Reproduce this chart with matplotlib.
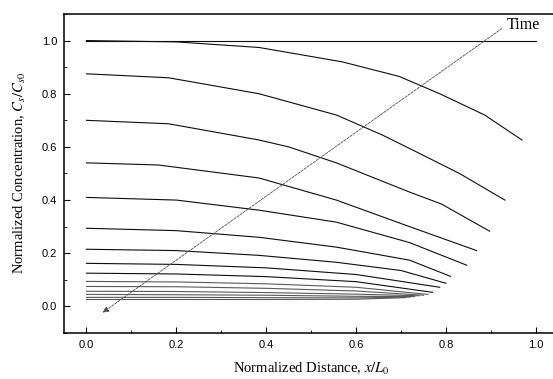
import matplotlib
matplotlib.use("Agg")
import matplotlib.pyplot as plt
from matplotlib.ticker import MultipleLocator

plt.rcParams['mathtext.fontset'] = 'stix'

#--Concentration profiles, one per time step (x/L0, Cs/Cs0)--#
x_t0 = [0.0, 1.0]
c_t0 = [1.0, 1.0]
x_t1 = [0.0, 0.2, 0.384, 0.569, 0.696, 0.786, 0.886, 0.969]
c_t1 = [1.0, 0.995, 0.974, 0.92, 0.865, 0.80, 0.72, 0.626]
x_t2 = [0.0, 0.183, 0.384, 0.556, 0.658, 0.725, 0.83, 0.931]
c_t2 = [0.875, 0.86, 0.80, 0.72, 0.645, 0.589, 0.50, 0.40]
x_t3 = [0.0, 0.183, 0.384, 0.45, 0.556, 0.719, 0.79, 0.897]
c_t3 = [0.70, 0.687, 0.626, 0.60, 0.54, 0.43, 0.385, 0.283]
x_t4 = [0.0, 0.16, 0.384, 0.556, 0.719, 0.868]
c_t4 = [0.54, 0.532, 0.483, 0.40, 0.30, 0.21]
x_t5 = [0.0, 0.2, 0.384, 0.556, 0.719, 0.846]
c_t5 = [0.41, 0.40, 0.362, 0.317, 0.24, 0.155]
x_t6 = [0.0, 0.2, 0.384, 0.556, 0.719, 0.81]
c_t6 = [0.294, 0.285, 0.26, 0.223, 0.174, 0.113]
x_t7 = [0.0, 0.2, 0.384, 0.556, 0.70, 0.80]
c_t7 = [0.215, 0.21, 0.192, 0.166, 0.135, 0.087]
x_t8 = [0.0, 0.2, 0.4, 0.6, 0.786]
c_t8 = [0.162, 0.158, 0.145, 0.12, 0.072]
x_t9 = [0.0, 0.2, 0.4, 0.6, 0.77]
c_t9 = [0.125, 0.122, 0.112, 0.093, 0.053]
x_t10 = [0.0, 0.2, 0.4, 0.6, 0.76]
c_t10 = [0.094, 0.092, 0.085, 0.072, 0.045]
x_t11 = [0.0, 0.2, 0.4, 0.6, 0.75]
c_t11 = [0.075, 0.074, 0.068, 0.058, 0.042]
x_t12 = [0.0, 0.2, 0.4, 0.6, 0.74]
c_t12 = [0.057, 0.056, 0.052, 0.046, 0.040]
x_t13 = [0.0, 0.2, 0.4, 0.6, 0.73]
c_t13 = [0.045, 0.044, 0.042, 0.038, 0.037]
x_t14 = [0.0, 0.2, 0.4, 0.6, 0.72]
c_t14 = [0.034, 0.034, 0.033, 0.032, 0.035]
x_t15 = [0.0, 0.2, 0.4, 0.6, 0.71]
c_t15 = [0.026, 0.026, 0.026, 0.027, 0.033]

profiles = [(x_t0, c_t0), (x_t1, c_t1), (x_t2, c_t2), (x_t3, c_t3),
            (x_t4, c_t4), (x_t5, c_t5), (x_t6, c_t6), (x_t7, c_t7),
            (x_t8, c_t8), (x_t9, c_t9), (x_t10, c_t10), (x_t11, c_t11),
            (x_t12, c_t12), (x_t13, c_t13), (x_t14, c_t14), (x_t15, c_t15)]

# time arrow: tail near the label, head at lower left
arrow_tail = (0.924, 1.045)
arrow_head = (0.036, -0.023)

#--Plot--#
fig = plt.figure(figsize=(5.53, 3.79), dpi=100)
ax = fig.add_axes([0.1157, 0.1214, 0.894, 0.8417])

for i, (xs, cs) in enumerate(profiles):
    col = '0.05' if i < 10 else '0.35'
    ax.plot(xs, cs, color=col, lw=0.8)

ax.annotate('', xy=arrow_head, xytext=arrow_tail,
            arrowprops=dict(arrowstyle='-|>', lw=0.6, ls=(0, (3, 1.5)),
                            color='0.3', mutation_scale=9, shrinkA=0, shrinkB=0))
ax.text(0.935, 1.06, 'Time', family='Liberation Serif', fontsize=11.5,
        ha='left', va='center')

ax.set_xlim(-0.05, 1.05)
ax.set_ylim(-0.1, 1.1)
ax.xaxis.set_major_locator(MultipleLocator(0.2))
ax.xaxis.set_minor_locator(MultipleLocator(0.1))
ax.yaxis.set_major_locator(MultipleLocator(0.2))
ax.yaxis.set_minor_locator(MultipleLocator(0.1))
ax.tick_params(which='both', direction='in', top=False, right=False,
               labelsize=8, pad=5)
ax.tick_params(which='major', length=4, width=0.8)
ax.tick_params(which='minor', length=2, width=0.6)
for lab in ax.get_xticklabels() + ax.get_yticklabels():
    lab.set_family('Liberation Sans')
for sp in ax.spines.values():
    sp.set_linewidth(1.1)

ax.set_xlabel(r'Normalized Distance, $x/L_0$', family='Liberation Serif',
              fontsize=10.5, labelpad=8)
ax.set_ylabel(r'Normalized Concentration, $C_s/C_{s0}$', family='Liberation Serif',
              fontsize=10.5, labelpad=10)

fig.savefig('out.png', dpi=100)
